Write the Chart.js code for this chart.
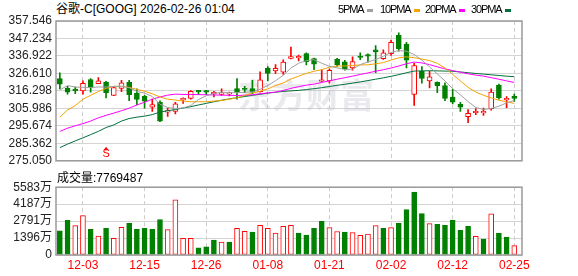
<!DOCTYPE html>
<html lang="zh">
<head>
<meta charset="UTF-8">
<title>谷歌-C[GOOG] 日K</title>
<script src="https://cdn.jsdelivr.net/npm/chart.js"></script>
<style>
  body { margin: 0; background: #fff; }
  #wrap { position: relative; width: 578px; height: 276px; overflow: hidden;
          font-family: "Liberation Sans", Arial, "Noto Sans CJK SC", sans-serif; font-size: 12px; color: #000; }
  canvas { position: absolute; left: 0; }
  .txt { position: absolute; white-space: nowrap; line-height: 14px; }
  .leg { font-size: 11px; letter-spacing: -1.1px; }
  .leg i { display: inline-block; width: 6px; height: 3px; margin-left: 3px; vertical-align: middle; }
</style>
</head>
<body>
<div id="wrap">
  <div class="txt" style="left:56px;top:2px">谷歌-C[GOOG] 2026-02-26 01:04</div>
  <canvas id="kline" width="578" height="172" style="top:0"></canvas>
  <div class="txt" style="left:57px;top:171px">成交量:7769487</div>
  <canvas id="vol" width="578" height="100" style="top:176px"></canvas>
</div>
<script>
// trading days shown (index 0..59)
var dates = ['11-28','12-01','12-02','12-03','12-04','12-05','12-08','12-09','12-10','12-11',
             '12-12','12-15','12-16','12-17','12-18','12-19','12-22','12-23','12-24','12-26',
             '12-29','12-30','12-31','01-02','01-05','01-06','01-07','01-08','01-09','01-12',
             '01-13','01-14','01-15','01-16','01-20','01-21','01-22','01-23','01-26','01-27',
             '01-28','01-29','01-30','02-02','02-03','02-04','02-05','02-06','02-09','02-10',
             '02-11','02-12','02-13','02-17','02-18','02-19','02-20','02-23','02-24','02-25'];

var opens  = [323.5,317.8,317.3,316.3,323.0,320.5,321.3,313.7,317.7,321.3,
              315.0,313.1,306.7,309.5,303.8,304.2,311.0,311.8,316.3,316.0,
              314.6,314.2,314.4,317.7,317.5,317.7,315.9,329.8,328.1,327.3,
              335.5,335.8,338.3,335.3,322.0,322.2,335.0,333.4,329.8,336.3,
              337.2,340.6,335.3,338.3,349.1,344.0,314.2,327.9,322.2,321.3,
              319.5,312.7,308.3,301.1,303.4,303.3,305.8,319.7,311.0,313.1];
var highs  = [326.9,319.0,318.6,322.2,323.5,324.1,322.0,318.6,322.6,322.6,
              317.5,313.7,311.4,310.5,306.1,309.5,312.2,316.5,316.7,316.7,
              316.0,317.5,315.6,323.5,319.0,322.5,327.5,330.7,331.8,334.7,
              342.1,337.5,338.7,335.7,328.8,329.3,335.5,334.3,336.4,338.8,
              338.2,343.1,340.6,346.3,350.6,345.0,332.6,330.6,327.9,321.6,
              321.1,317.2,309.5,305.3,305.9,306.1,317.5,320.3,312.9,314.4];
var lows   = [317.5,314.4,314.6,314.4,315.6,320.5,312.2,313.5,315.8,310.6,
              308.0,306.1,304.2,298.1,301.3,302.7,308.9,311.4,314.2,314.1,
              312.7,313.7,313.3,311.4,315.2,314.6,315.6,322.2,326.4,326.0,
              335.1,334.0,331.7,328.8,321.8,320.9,330.7,328.5,328.5,334.7,
              333.2,327.0,334.9,337.3,339.8,329.8,307.8,320.9,318.0,315.2,
              310.5,308.6,304.2,297.6,302.2,301.9,304.9,311.4,306.4,310.1];
var closes = [320.3,315.6,316.5,320.7,318.2,322.2,315.2,318.2,321.1,314.1,
              311.2,310.3,308.2,298.5,304.2,308.6,311.4,316.0,315.7,315.6,
              315.0,315.2,314.8,315.6,317.1,315.6,322.8,326.6,329.6,333.3,
              336.6,336.3,333.5,332.0,322.6,328.5,331.7,329.3,333.6,336.0,
              336.8,339.3,338.7,345.0,341.2,334.5,331.3,323.6,324.6,319.4,
              311.8,309.7,306.7,303.0,304.2,303.9,315.6,312.2,311.6,311.9];

// volume in 万 shares
var volume = [1986,2845,2416,3248,2120,1557,2201,1369,2281,2603,
              2120,2201,2120,2926,2094,4536,1369,1369,590,671,
              1235,1074,1074,2201,1959,1879,2442,2201,1798,2362,
              2442,1798,1637,2201,2765,2255,1932,1879,1852,1610,
              1718,2416,2201,2255,2603,3731,5180,3409,2577,2523,
              2442,2845,2040,2362,1530,1315,3382,1798,1476,777];

var ma5  = [316.9,319.4,318.6,318.4,318.3,318.6,318.6,318.9,319.0,318.2,
            316.0,315.0,313.0,308.4,306.5,305.9,306.2,307.7,311.2,313.4,
            314.7,315.5,315.3,315.2,315.5,315.7,317.2,319.5,322.3,325.5,
            329.8,332.6,334.1,334.7,332.6,330.8,329.9,328.9,329.1,331.8,
            333.4,334.8,336.7,339.0,340.1,339.7,337.8,334.5,330.5,326.3,
            322.2,317.6,314.0,310.0,306.5,305.3,305.9,307.3,309.2,310.6];
var ma10 = [300.8,305.1,307.6,311.4,313.7,315.9,317.8,319.0,319.0,318.4,
            317.2,316.1,314.6,312.7,311.4,310.9,310.3,309.9,309.9,309.9,
            310.3,310.6,311.4,312.2,313.7,315.0,316.1,317.5,319.4,321.0,
            323.3,325.0,326.6,327.9,328.8,330.3,331.0,331.0,331.3,331.6,
            331.7,332.3,333.0,334.5,335.8,336.4,335.9,335.1,334.2,332.6,
            329.8,326.0,322.2,318.4,315.6,313.7,312.2,310.8,309.9,308.9];
var ma20 = [292.4,294.3,295.7,297.0,298.5,300.4,301.9,303.2,304.6,306.1,
            308.0,309.6,311.4,312.7,313.8,314.4,314.2,314.2,314.1,314.0,
            313.9,313.8,313.7,313.6,313.7,314.0,314.6,315.1,315.6,316.5,
            317.8,318.8,319.7,320.3,321.3,322.2,323.2,324.1,325.0,326.0,
            326.9,327.9,328.8,329.8,331.0,332.3,333.3,332.8,331.8,330.5,
            329.3,328.3,327.3,326.4,325.6,325.0,324.1,323.2,322.2,321.3];
var ma30 = [282.8,284.9,286.8,288.6,290.5,292.4,294.7,296.2,298.5,300.0,
            300.8,301.4,302.3,303.8,304.6,305.3,306.2,307.0,308.0,308.9,
            309.9,310.8,311.6,312.3,313.0,313.7,314.3,315.0,315.5,316.0,
            316.3,316.6,317.1,317.6,318.2,318.9,319.6,320.2,320.9,321.6,
            322.4,323.2,324.0,324.9,325.9,327.0,328.0,328.1,328.2,328.1,
            328.0,327.9,327.5,327.0,326.6,326.2,325.8,325.4,325.0,324.7];

var priceTicks = [275.050,285.362,295.674,305.986,316.298,326.610,336.922,347.234,357.546];
var volTicks = [0,1396,2791,4187,5583];
var xTickIdx = [3,11,19,27,35,43,51,59];
var sMarkIdx = 6;

var maNames = ['5PMA','10PMA','20PMA','30PMA'];
var maSeries = [ma5, ma10, ma20, ma30];
var maColors = ['#a0a0a0','#f4a300','#ff00ff','#00703c'];
var legendLeft = [338, 380, 425, 471];

var RED = '#ff0000', GREEN = '#008000';
var FONT = "'Liberation Sans', Arial, 'Noto Sans CJK SC', sans-serif";

// legend
maNames.forEach(function (n, k) {
    var d = document.createElement('div');
    d.className = 'txt leg';
    d.style.left = legendLeft[k] + 'px';
    d.style.top = '2px';
    d.innerHTML = n + '<i style="background:' + maColors[k] + '"></i>';
    document.getElementById('wrap').appendChild(d);
});

var up = closes.map((c, i) => c >= opens[i]);
// volume colour follows change vs previous close
var volUp = closes.map((c, i) => i === 0 ? up[0] : c >= closes[i - 1]);

var boxPlugin = {
    id: 'box',
    afterDatasetsDraw(chart) {
        var a = chart.chartArea, ctx = chart.ctx;
        ctx.save();
        ctx.strokeStyle = '#9a9a9a';
        ctx.lineWidth = 1.5;
        ctx.strokeRect(a.left, a.top, a.right - a.left, a.bottom - a.top);
        ctx.restore();
    }
};

var watermark = {
    id: 'watermark',
    beforeDatasetsDraw(chart) {
        var ctx = chart.ctx;
        ctx.save();
        ctx.font = "bold 34px 'Noto Sans CJK SC'";
        ctx.fillStyle = 'rgba(190,190,202,0.32)';
        ctx.textBaseline = 'middle';
        ctx.fillText('东方财富', 238, 95);
        ctx.restore();
    }
};

var sMarker = {
    id: 'sMarker',
    afterDatasetsDraw(chart) {
        var ctx = chart.ctx, a = chart.chartArea;
        var x = chart.scales.x.getPixelForValue(sMarkIdx);
        ctx.save();
        ctx.fillStyle = RED;
        ctx.beginPath();
        ctx.moveTo(x, a.bottom - 14);
        ctx.lineTo(x - 2.5, a.bottom - 10.5);
        ctx.lineTo(x + 2.5, a.bottom - 10.5);
        ctx.closePath();
        ctx.fill();
        ctx.font = '11px ' + FONT;
        ctx.textAlign = 'center';
        ctx.textBaseline = 'bottom';
        ctx.fillText('S', x, a.bottom - 1);
        ctx.restore();
    }
};

function xAxis(showLabels, h) {
    return {
        type: 'linear', min: -0.5, max: 60, offset: false,
        afterBuildTicks: s => { s.ticks = xTickIdx.map(v => ({ value: v })); },
        afterFit: s => { s.height = h; },
        ticks: {
            display: showLabels, autoSkip: false, maxRotation: 0, padding: 3,
            color: RED, font: { family: FONT, size: 12 },
            callback: v => dates[v]
        },
        grid: { offset: false, color: '#cccccc', drawTicks: false },
        border: { display: false, dash: [4, 3] }
    };
}

var lineSets = maSeries.map((s, k) => ({
    type: 'line',
    data: s.map((v, i) => ({ x: i, y: v })),
    borderColor: maColors[k],
    borderWidth: 1,
    pointRadius: 0,
    tension: 0,
    order: 0
}));

new Chart(document.getElementById('kline'), {
    type: 'bar',
    data: {
        datasets: lineSets.concat([{
            data: closes.map((c, i) => ({ x: i, y: [Math.min(opens[i], c), Math.max(opens[i], c)] })),
            backgroundColor: up.map(u => u ? '#ffffff' : GREEN),
            borderColor: up.map(u => u ? RED : GREEN),
            borderWidth: 1,
            borderSkipped: false,
            barThickness: 5,
            minBarLength: 1.5,
            grouped: false,
            order: 1
        }, {
            data: highs.map((h, i) => ({ x: i, y: [lows[i], h] })),
            backgroundColor: up.map(u => u ? RED : GREEN),
            borderWidth: 0,
            barThickness: 1,
            grouped: false,
            order: 2
        }])
    },
    options: {
        responsive: false,
        animation: false,
        layout: { padding: { top: 21, right: 56, bottom: 6, left: 0 } },
        plugins: { legend: { display: false }, tooltip: { enabled: false } },
        scales: {
            x: xAxis(false, 0),
            y: {
                min: 275.05, max: 357.546,
                afterBuildTicks: s => { s.ticks = priceTicks.map(v => ({ value: v })); },
                afterFit: s => { s.width = 56; },
                ticks: { autoSkip: false, padding: 4, color: '#222', font: { family: FONT, size: 12 },
                         callback: v => v.toFixed(3) },
                grid: { color: '#d4d4d4', drawTicks: false },
                border: { display: false }
            }
        }
    },
    plugins: [watermark, boxPlugin, sMarker]
});

new Chart(document.getElementById('vol'), {
    type: 'bar',
    data: {
        datasets: [{
            data: volume.map((v, i) => ({ x: i, y: v })),
            backgroundColor: volUp.map(u => u ? '#ffffff' : GREEN),
            borderColor: volUp.map(u => u ? RED : GREEN),
            borderWidth: 1,
            borderSkipped: false,
            barThickness: 5,
            grouped: false
        }]
    },
    options: {
        responsive: false,
        animation: false,
        layout: { padding: { top: 10, right: 56, bottom: 0, left: 0 } },
        plugins: { legend: { display: false }, tooltip: { enabled: false } },
        scales: {
            x: xAxis(true, 21),
            y: {
                min: 0, max: 5583,
                afterBuildTicks: s => { s.ticks = volTicks.map(v => ({ value: v })); },
                afterFit: s => { s.width = 56; },
                ticks: { autoSkip: false, padding: 4, color: '#222', font: { family: FONT, size: 12 },
                         callback: v => v === 0 ? '0' : v + '万' },
                grid: { color: '#d4d4d4', drawTicks: false },
                border: { display: false }
            }
        }
    },
    plugins: [boxPlugin]
});
</script>
</body>
</html>
